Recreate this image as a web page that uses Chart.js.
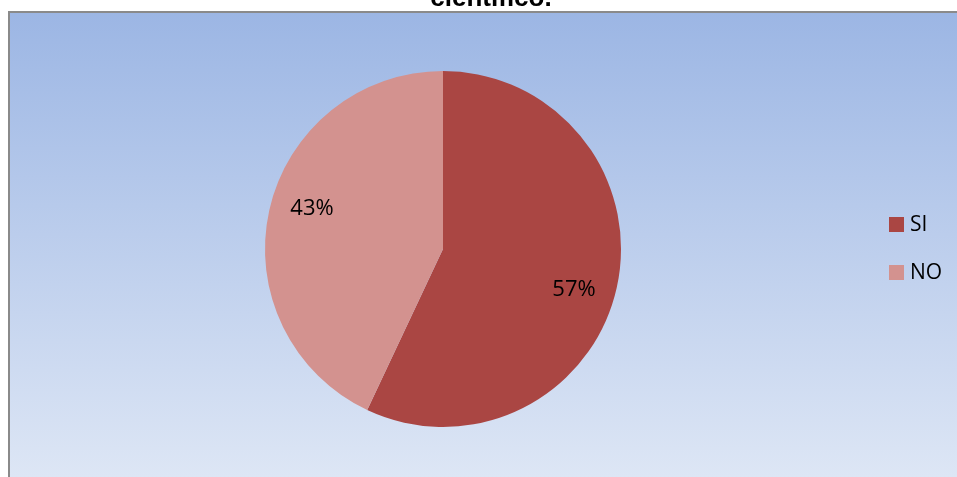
<!DOCTYPE html>
<html>
<head>
<meta charset="utf-8">
<script src="https://cdn.jsdelivr.net/npm/chart.js@4"></script>
<style>
  html, body { margin: 0; padding: 0; background: #ffffff; overflow: hidden; }
  #wrap { position: relative; width: 957px; height: 477px; overflow: hidden; }
  canvas { position: absolute; left: 0; top: 0; z-index: 1; }
  #title { position: absolute; left: 0; width: 982px; top: -18px; text-align: center;
           font-family: "Liberation Sans", Arial, sans-serif; font-weight: bold; font-size: 26px;
           color: #000; line-height: 30px; z-index: 5; }
</style>
</head>
<body>
<div id="wrap">
  <canvas id="c" width="957" height="477"></canvas>
  <div id="title">científico.</div>
</div>
<script>
const categories = ["SI", "NO"];
const values = [57, 43];
const percentLabels = ["57%", "43%"];
const colors = ["#AA4643", "#D3928F"];

const bgPlugin = {
  id: 'bg',
  beforeDraw(chart) {
    const ctx = chart.ctx;
    const x0 = 10, y0 = 13, x1 = 957, y1 = 477;
    const g = ctx.createLinearGradient(0, y0, 0, y1);
    g.addColorStop(0, '#9CB6E4');
    g.addColorStop(1, '#DDE6F5');
    ctx.save();
    ctx.fillStyle = g;
    ctx.fillRect(x0, y0, x1 - x0, y1 - y0);
    ctx.strokeStyle = '#8a8a8a';
    ctx.lineWidth = 2;
    ctx.beginPath();
    ctx.moveTo(x0 - 1, y1);
    ctx.lineTo(x0 - 1, y0 - 1);
    ctx.lineTo(x1, y0 - 1);
    ctx.stroke();
    ctx.restore();
  }
};

const labelPlugin = {
  id: 'pctLabels',
  afterDatasetsDraw(chart) {
    const ctx = chart.ctx;
    const meta = chart.getDatasetMeta(0);
    ctx.save();
    ctx.font = '22px "Open Sans", sans-serif';
    ctx.fillStyle = '#000';
    ctx.textAlign = 'center';
    ctx.textBaseline = 'middle';
    meta.data.forEach((arc, i) => {
      const p = arc.getProps(['x','y','startAngle','endAngle','outerRadius'], true);
      const mid = (p.startAngle + p.endAngle) / 2 + 4.5 * Math.PI / 180;
      const r = p.outerRadius * 0.77;
      ctx.fillText(percentLabels[i], p.x + Math.cos(mid) * r, p.y + Math.sin(mid) * r);
    });
    ctx.restore();
  }
};

const legendPlugin = {
  id: 'customLegend',
  afterDraw(chart) {
    const ctx = chart.ctx;
    ctx.save();
    ctx.font = '21px "Open Sans", sans-serif';
    ctx.textBaseline = 'middle';
    ctx.textAlign = 'left';
    categories.forEach((c, i) => {
      const cy = 224.5 + i * 48;
      ctx.fillStyle = colors[i];
      ctx.fillRect(889, cy - 7.5, 15, 15);
      ctx.fillStyle = '#000';
      ctx.fillText(c, 910, cy + 1);
    });
    ctx.restore();
  }
};

new Chart(document.getElementById('c'), {
  type: 'pie',
  data: {
    labels: categories,
    datasets: [{
      data: values,
      backgroundColor: colors,
      borderWidth: 0
    }]
  },
  options: {
    responsive: false,
    animation: false,
    layout: { padding: { left: 0, right: 71, top: 71, bottom: 50 } },
    plugins: {
      legend: { display: false },
      tooltip: { enabled: false },
      title: { display: false }
    }
  },
  plugins: [bgPlugin, labelPlugin, legendPlugin]
});
</script>
</body>
</html>
